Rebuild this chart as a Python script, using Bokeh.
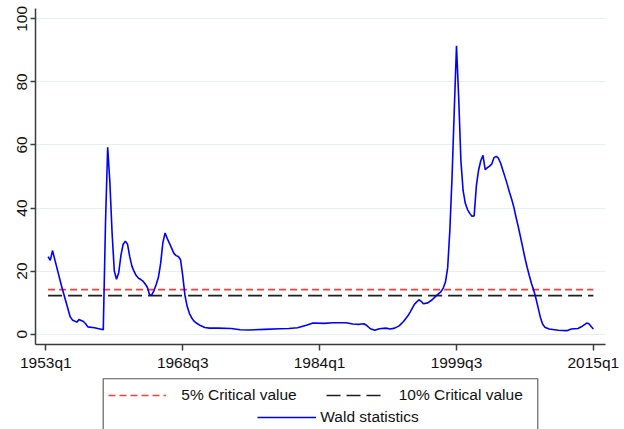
from bokeh.plotting import figure
from bokeh.layouts import column
from bokeh.models import Range1d, FixedTicker, Legend, LegendItem, BoxAnnotation
from bokeh.embed import file_html
from bokeh.resources import INLINE

# ---- data ----
quarters = [
    "1953q2", "1953q3", "1953q4", "1954q2", "1954q4", "1955q2", "1955q4", "1956q1",
    "1956q3", "1956q4", "1957q2", "1957q3", "1957q4", "1958q3", "1959q1", "1959q3",
    "1959q4", "1960q1", "1960q2", "1960q3", "1960q4", "1961q1", "1961q2", "1961q3",
    "1961q4", "1962q1", "1962q2", "1962q3", "1962q4", "1963q1", "1963q2", "1963q3",
    "1963q4", "1964q1", "1964q2", "1964q3", "1964q4", "1965q1", "1965q2", "1965q3",
    "1965q4", "1966q1", "1966q2", "1966q3", "1966q4", "1967q1", "1967q2", "1967q3",
    "1967q4", "1968q1", "1968q2", "1968q3", "1968q4", "1969q1", "1969q2", "1969q3",
    "1969q4", "1970q1", "1970q3", "1971q1", "1971q3", "1972q3", "1974q1", "1975q1",
    "1976q1", "1977q4", "1979q3", "1980q3", "1981q3", "1982q3", "1983q2", "1984q3",
    "1985q3", "1987q1", "1987q4", "1988q3", "1989q1", "1989q2", "1989q4", "1990q2",
    "1990q4", "1991q3", "1992q1", "1992q3", "1993q1", "1993q3", "1994q1", "1994q2",
    "1994q4", "1995q2", "1995q3", "1995q4", "1996q2", "1996q4", "1997q2", "1997q4",
    "1998q1", "1998q2", "1998q3", "1998q4", "1999q1", "1999q2", "1999q3", "1999q4",
    "2000q1", "2000q2", "2000q3", "2000q4", "2001q1", "2001q2", "2001q3", "2001q4",
    "2002q1", "2002q2", "2002q3", "2002q4", "2003q1", "2003q2", "2003q3", "2003q4",
    "2004q1", "2004q2", "2004q3", "2004q4", "2005q1", "2005q2", "2005q3", "2005q4",
    "2006q1", "2006q2", "2006q3", "2006q4", "2007q1", "2007q2", "2007q3", "2007q4",
    "2008q1", "2008q2", "2008q3", "2008q4", "2009q1", "2009q2", "2009q3", "2010q1",
    "2011q1", "2012q1", "2012q3", "2013q2", "2013q4", "2014q2", "2014q3", "2014q4",
    "2015q1",
]
wald = [
    24.6, 23.4, 26.5, 21.0, 15.5, 10.5, 5.5, 4.5,
    3.8, 4.6, 4.0, 3.3, 2.3, 2.0, 1.7, 1.4,
    35.0, 59.3, 48.0, 32.0, 20.0, 17.4, 19.5, 25.0,
    28.5, 29.5, 28.5, 24.5, 21.5, 19.8, 18.5, 17.7,
    17.3, 16.8, 15.9, 14.8, 12.4, 12.5, 13.8, 15.8,
    18.1, 22.5, 29.0, 32.1, 30.3, 28.8, 27.2, 25.6,
    24.9, 24.6, 23.6, 18.5, 12.3, 8.8, 6.6, 5.2,
    4.2, 3.6, 2.7, 2.1, 1.9, 1.9, 1.8, 1.4,
    1.3, 1.5, 1.7, 1.8, 2.0, 2.8, 3.5, 3.4,
    3.6, 3.6, 3.2, 3.1, 3.3, 2.9, 1.7, 1.2,
    1.7, 1.9, 1.6, 1.9, 2.6, 4.0, 5.8, 7.0,
    9.5, 10.9, 10.4, 9.6, 9.9, 10.9, 12.3, 13.5,
    14.6, 16.5, 21.0, 33.0, 50.0, 71.0, 91.5, 75.0,
    55.0, 45.5, 41.5, 39.5, 38.3, 37.4, 37.5, 47.0,
    52.0, 55.0, 56.7, 52.2, 52.8, 53.3, 54.0, 56.0,
    56.4, 55.8, 54.2, 52.0, 49.8, 47.5, 45.0, 42.8,
    40.2, 37.0, 34.0, 30.8, 27.5, 24.2, 21.2, 18.5,
    16.0, 13.9, 11.3, 8.3, 5.3, 3.2, 2.2, 1.6,
    1.2, 1.1, 1.6, 1.8, 2.5, 3.5, 3.3, 2.4,
    1.6,
]
crit5 = 14.1
crit10 = 12.2
tick_quarters = ["1953q1", "1968q3", "1984q1", "1999q3", "2015q1"]
y_ticks = [0, 20, 40, 60, 80, 100]
legend_labels = ["5% Critical value", "10% Critical value", "Wald statistics"]

FONT = "Liberation Sans"
RED, BLACK, BLUE = "#ff3b3b", "#1e1e1e", "#0000ff"
DASH5, DASH10 = "7 4", "14 6"
BL, BR = 35, 19  # left / right borders shared by both stacked figures


def qidx(s):
    y, q = s.split("q")
    return (int(y) - 1953) * 4 + int(q) - 1


x = [qidx(s) for s in quarters]
tick_x = [qidx(s) for s in tick_quarters]
crit_x = [x[0], x[-1]]

p = figure(width=624, height=376, output_backend="svg", toolbar_location=None,
           x_range=Range1d(-4.7, 253.5), y_range=Range1d(-3.3, 103.3),
           min_border_left=BL, min_border_right=BR, min_border_top=8,
           min_border_bottom=32)
p.outline_line_color = None
p.background_fill_color = "white"

p.line(crit_x, [crit5, crit5], line_color=RED, line_width=1.6, line_dash=DASH5)
p.line(crit_x, [crit10, crit10], line_color=BLACK, line_width=1.6,
       line_dash=DASH10)
p.line(x, wald, line_color=BLUE, line_width=1.6)

# axes
p.xaxis.ticker = FixedTicker(ticks=tick_x)
p.xaxis.major_label_overrides = {t: s for t, s in zip(tick_x, tick_quarters)}
p.yaxis.ticker = FixedTicker(ticks=y_ticks)
p.yaxis.major_label_orientation = "vertical"
for ax in (p.xaxis, p.yaxis):
    ax.axis_line_color = "#3c3c3c"
    ax.axis_line_width = 1.5
    ax.major_tick_line_color = "#3c3c3c"
    ax.major_tick_line_width = 1.5
    ax.major_tick_in = 0
    ax.minor_tick_line_color = None
    ax.major_label_text_font = FONT
    ax.major_label_text_font_size = "15.5px"
    ax.major_label_text_color = "#111111"
p.xaxis.major_tick_out = 6
p.xaxis.major_label_standoff = 3
p.yaxis.major_tick_out = 5
p.yaxis.major_label_standoff = 3
p.xgrid.visible = False
p.ygrid.grid_line_color = "#e6eff2"
p.ygrid.grid_line_width = 1

# ---- legend panel below the plot ----
# (its ranges lie away from the data, so the keyed renderers draw nothing
#  inside it; they only supply the legend samples)
lg = figure(width=624, height=53, output_backend="svg", toolbar_location=None,
            x_range=Range1d(-20, -10), y_range=Range1d(-20, -10),
            x_axis_location=None, y_axis_location=None,
            min_border_left=BL, min_border_right=BR, min_border_top=0,
            min_border_bottom=0)
lg.grid.visible = False
lg.outline_line_color = None

k5 = lg.line(crit_x, [crit5, crit5], line_color=RED, line_width=1.6,
             line_dash=DASH5)
k10 = lg.line(crit_x, [crit10, crit10], line_color=BLACK, line_width=1.6,
              line_dash=DASH10)
kw = lg.line(x, wald, line_color=BLUE, line_width=1.6)

box = BoxAnnotation(left=102.7, right=537.3, top=2.3, bottom=90,
                    left_units="canvas", right_units="canvas",
                    top_units="canvas", bottom_units="canvas",
                    fill_color=None, fill_alpha=0, line_color="#555555",
                    line_alpha=1.0, line_width=1.1)
lg.add_layout(box)

common = dict(orientation="horizontal", background_fill_alpha=0,
              border_line_alpha=0, padding=0, margin=0, glyph_height=18,
              label_height=18, label_text_font=FONT,
              label_text_font_size="15.5px", label_text_color="#111111")
leg1 = Legend(items=[LegendItem(label=legend_labels[0], renderers=[k5]),
                     LegendItem(label=legend_labels[1], renderers=[k10])],
              location=(108.3 - BL, 25.4), spacing=29, label_standoff=15,
              glyph_width=58, **common)
leg2 = Legend(items=[LegendItem(label=legend_labels[2], renderers=[kw])],
              location=(257.3 - BL, 3), label_standoff=4, glyph_width=59,
              **common)
lg.add_layout(leg1)
lg.add_layout(leg2)

open("out.html", "w").write(file_html(column(p, lg), INLINE))
